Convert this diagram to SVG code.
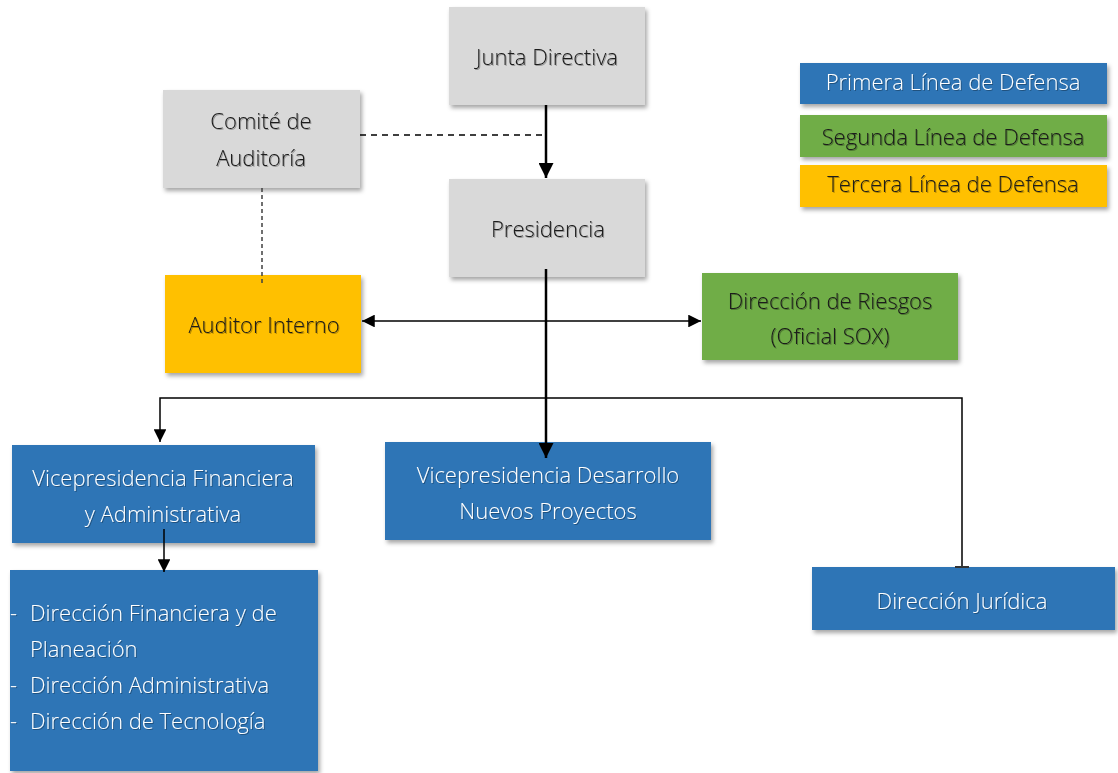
<svg xmlns="http://www.w3.org/2000/svg" width="1118" height="773" viewBox="0 0 1118 773">
<defs>
<filter id="sh" x="-10%" y="-10%" width="125%" height="135%">
<feDropShadow dx="2" dy="3" stdDeviation="2" flood-color="#000" flood-opacity="0.35"/>
</filter>
<filter id="ts" x="-5%" y="-20%" width="110%" height="150%">
<feDropShadow dx="1" dy="1" stdDeviation="0.6" flood-color="#000" flood-opacity="0.3"/>
</filter>
<marker id="ah" viewBox="0 0 10 10" refX="10" refY="5" markerWidth="6" markerHeight="6" orient="auto-start-reverse" markerUnits="strokeWidth">
<path d="M0,0 L10,5 L0,10 z" fill="#000"/>
</marker>
<marker id="ah2" viewBox="0 0 10 10" refX="10" refY="5" markerWidth="8.5" markerHeight="8.5" orient="auto-start-reverse" markerUnits="strokeWidth">
<path d="M0,0 L10,5 L0,10 z" fill="#000"/>
</marker>
</defs>
<style>
.gray{fill:#d9d9d9;filter:url(#sh)}
.blue{fill:#2e75b6;filter:url(#sh)}
.green{fill:#70ad47;filter:url(#sh)}
.yellow{fill:#ffc000;filter:url(#sh)}
text{font-family:"Open Sans","Noto Sans",sans-serif;font-weight:300;font-size:22px;text-anchor:middle;filter:url(#ts)}
.dk{fill:#1a1a1a}
.wt{fill:#ffffff}
.lt{text-anchor:start}
</style>
<rect width="1118" height="773" fill="#fff"/>
<g id="junta"><rect class="gray" x="449" y="7" width="196" height="98"/><text class="dk" x="547" y="65">Junta Directiva</text></g>
<g id="comite"><rect class="gray" x="163" y="90" width="197" height="98"/><text class="dk" x="261" y="129">Comité de</text><text class="dk" x="261" y="166">Auditoría</text></g>
<g id="presidencia"><rect class="gray" x="449" y="179" width="196" height="98"/><text class="dk" x="548" y="237">Presidencia</text></g>
<g id="auditor"><rect class="yellow" x="165" y="275" width="196" height="98"/><text class="dk" x="264" y="333">Auditor Interno</text></g>
<g id="riesgos"><rect class="green" x="702" y="273" width="256" height="87"/><text class="dk" x="830" y="309">Dirección de Riesgos</text><text class="dk" x="830" y="344">(Oficial SOX)</text></g>
<g id="legend1"><rect class="blue" x="800" y="63" width="307" height="41"/><text class="wt" x="953" y="90">Primera Línea de Defensa</text></g>
<g id="legend2"><rect class="green" x="800" y="115" width="307" height="42"/><text class="dk" x="953" y="145">Segunda Línea de Defensa</text></g>
<g id="legend3"><rect class="yellow" x="800" y="165" width="307" height="42"/><text class="dk" x="953" y="192">Tercera Línea de Defensa</text></g>
<g id="vpfin"><rect class="blue" x="12" y="445" width="303" height="98"/><text class="wt" x="163" y="486">Vicepresidencia Financiera</text><text class="wt" x="163" y="522">y Administrativa</text></g>
<g id="vpdes"><rect class="blue" x="385" y="442" width="326" height="98"/><text class="wt" x="548" y="483">Vicepresidencia Desarrollo</text><text class="wt" x="548" y="519">Nuevos Proyectos</text></g>
<g id="juridica"><rect class="blue" x="812" y="567" width="303" height="63"/><text class="wt" x="962" y="609">Dirección Jurídica</text></g>
<g id="direcciones"><rect class="blue" x="10" y="570" width="308" height="201"/>
<text class="wt lt" x="10" y="621">-</text><text class="wt lt" x="30" y="621">Dirección Financiera y de</text>
<text class="wt lt" x="30" y="657">Planeación</text>
<text class="wt lt" x="10" y="693">-</text><text class="wt lt" x="30" y="693">Dirección Administrativa</text>
<text class="wt lt" x="10" y="729">-</text><text class="wt lt" x="30" y="729">Dirección de Tecnología</text>
</g>
<g id="connectors" fill="none" stroke="#000">
<path d="M546,105 L546,178" stroke-width="2.5" marker-end="url(#ah)"/>
<path d="M360,135 L546,135" stroke-width="1.5" stroke-dasharray="6,5"/>
<path d="M262,188 L262,283" stroke="#404040" stroke-width="1.5" stroke-dasharray="4,3"/>
<path d="M546,269 L546,458" stroke-width="2.5" marker-end="url(#ah)"/>
<path d="M362,321 L701,321" stroke-width="1.5" marker-start="url(#ah2)" marker-end="url(#ah2)"/>
<path d="M962,567 L962,398 L160,398 L160,442" stroke-width="1.5" marker-end="url(#ah2)"/>
<path d="M955,567 L969,567" stroke="#333" stroke-width="2"/>
<path d="M164,529 L164,572" stroke-width="1.5" marker-end="url(#ah2)"/>
</g>
</svg>
